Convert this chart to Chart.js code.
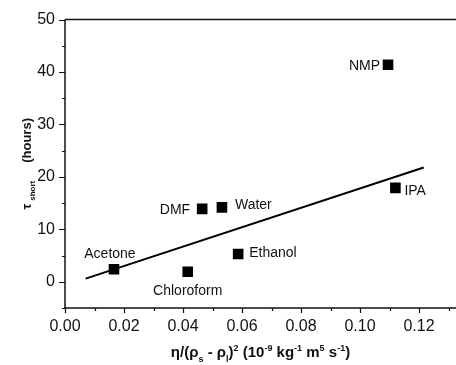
<!DOCTYPE html>
<html>
<head>
<meta charset="utf-8">
<script src="https://cdn.jsdelivr.net/npm/chart.js@4.4.1/dist/chart.umd.min.js"></script>
<style>
html,body{margin:0;padding:0;background:#fff;}
#wrap{width:456px;height:365px;position:relative;overflow:hidden;}
</style>
</head>
<body>
<div id="wrap"><canvas id="c" width="456" height="365"></canvas></div>
<script>
// ---- data ----
const solvents = ['Acetone', 'Chloroform', 'DMF', 'Water', 'Ethanol', 'NMP', 'IPA'];
const xValues  = [0.0166, 0.0416, 0.0465, 0.0532, 0.0587, 0.1095, 0.1120];
const yValues  = [2.4, 1.9, 13.9, 14.2, 5.3, 41.4, 17.9];
const fitX     = [0.0070, 0.1216];
const fitY     = [0.6, 21.8];
const xTickLabels = ['0.00', '0.02', '0.04', '0.06', '0.08', '0.10', '0.12'];
const yTickLabels = ['0', '10', '20', '30', '40', '50'];
// label placement: [align, dx, dy]
const labelPlace = {
  'Acetone':   ['center', -4, -15],
  'Chloroform':['center', 0, 19],
  'DMF':       ['right', -12, 1],
  'Water':     ['left', 13, -2],
  'Ethanol':   ['left', 11, -1],
  'NMP':       ['right', -8, 1],
  'IPA':       ['left', 9, 3]
};

const FONT = '"Liberation Sans", Arial, Helvetica, sans-serif';

function drawRich(ctx, parts, x, y, size, align) {
  // parts: [text, mode, extraGapAfter]
  const small = Math.round(size * 0.62);
  let total = 0;
  const widths = parts.map(p => {
    ctx.font = 'bold ' + (p[1] === 'n' ? size : small) + 'px ' + FONT;
    const w = ctx.measureText(p[0]).width + (p[2] || 0);
    total += w;
    return w;
  });
  let cx = align === 'center' ? x - total / 2 : x;
  parts.forEach((p, i) => {
    ctx.font = 'bold ' + (p[1] === 'n' ? size : small) + 'px ' + FONT;
    let dy = 0;
    if (p[1] === 'sub') dy = size * 0.3;
    if (p[1] === 'sup') dy = -size * 0.42;
    ctx.fillText(p[0], cx, y + dy);
    cx += widths[i];
  });
}

const framePlugin = {
  id: 'frame',
  afterDatasetsDraw(chart) {
    const ctx = chart.ctx;
    const a = chart.chartArea;
    const xs = chart.scales.x, ys = chart.scales.y;
    ctx.save();
    ctx.strokeStyle = '#111';
    ctx.lineWidth = 1.5;
    ctx.beginPath();
    ctx.moveTo(a.left, a.top); ctx.lineTo(456, a.top);
    ctx.moveTo(a.left, a.top); ctx.lineTo(a.left, a.bottom);
    ctx.moveTo(a.left - 1, a.bottom); ctx.lineTo(456, a.bottom);
    ctx.stroke();
    ctx.lineWidth = 1.2;
    ctx.beginPath();
    for (let i = 0; i <= 13; i++) {
      const v = i * 0.01;
      const px = Math.round(xs.getPixelForValue(v)) + 0.5;
      const len = (i % 2 === 0) ? 5 : 3;
      ctx.moveTo(px, a.bottom); ctx.lineTo(px, a.bottom + len);
    }
    for (let v = -5; v <= 50; v += 5) {
      const py = Math.round(ys.getPixelForValue(v)) + 0.5;
      const len = (v % 10 === 0) ? 6 : 3;
      ctx.moveTo(a.left, py); ctx.lineTo(a.left - len, py);
    }
    ctx.stroke();

    // point labels
    ctx.fillStyle = '#111';
    ctx.font = '14px ' + FONT;
    ctx.textBaseline = 'middle';
    const meta = chart.getDatasetMeta(0);
    meta.data.forEach((pt, i) => {
      const name = solvents[i];
      const pl = labelPlace[name];
      ctx.textAlign = pl[0];
      ctx.fillText(name, pt.x + pl[1], pt.y + pl[2]);
    });

    // axis titles
    ctx.textBaseline = 'alphabetic';
    ctx.textAlign = 'left';
    const cx = (a.left + 456) / 2;
    drawRich(ctx, [
      ['\u03b7/(\u03c1', 'n'], ['s', 'sub'], [' - \u03c1', 'n'], ['l', 'sub'], [')', 'n'], ['2', 'sup'],
      [' (10', 'n'], ['-9', 'sup'], [' kg', 'n'], ['-1', 'sup'], [' m', 'n'], ['5', 'sup'],
      [' s', 'n'], ['-1', 'sup'], [')', 'n']
    ], cx, 357, 15, 'center');

    ctx.translate(31, (a.top + a.bottom) / 2);
    ctx.rotate(-Math.PI / 2);
    drawRich(ctx, [['\u03c4', 'n', 3], ['short', 'sub', 18], ['(hours)', 'n']], 0, 0, 13, 'center');
    ctx.restore();
  }
};

new Chart(document.getElementById('c'), {
  type: 'scatter',
  data: {
    datasets: [
      {
        data: xValues.map((x, i) => ({x: x, y: yValues[i]})),
        pointStyle: 'rect',
        pointRadius: 7.5,
        pointBorderWidth: 0,
        backgroundColor: '#000',
        borderColor: '#000',
        order: 1
      },
      {
        data: fitX.map((x, i) => ({x: x, y: fitY[i]})),
        showLine: true,
        pointRadius: 0,
        borderColor: '#000',
        borderWidth: 2,
        fill: false,
        order: 2
      }
    ]
  },
  options: {
    responsive: false,
    animation: false,
    events: [],
    layout: {padding: {left: 0, top: 18, right: 0, bottom: 0}},
    plugins: {legend: {display: false}, tooltip: {enabled: false}},
    scales: {
      x: {
        type: 'linear', min: 0, max: 0.13,
        grid: {display: false, drawTicks: false},
        border: {display: false},
        afterFit(s) { s.height = 57; },
        afterBuildTicks(s) {
          s.ticks = xTickLabels.map(t => ({value: parseFloat(t)}));
        },
        ticks: {
          autoSkip: false, maxRotation: 0, padding: 9,
          color: '#111', font: {size: 16, family: FONT},
          callback: (v) => xTickLabels.find(t => Math.abs(parseFloat(t) - v) < 1e-6) || ''
        }
      },
      y: {
        type: 'linear', min: -5, max: 50,
        grid: {display: false, drawTicks: false},
        border: {display: false},
        afterFit(s) { s.width = 65; },
        afterBuildTicks(s) {
          s.ticks = yTickLabels.map(t => ({value: parseFloat(t)}));
        },
        ticks: {
          autoSkip: false, padding: 10,
          color: '#111', font: {size: 16, family: FONT},
          callback: (v) => yTickLabels.find(t => parseFloat(t) === v) || ''
        }
      }
    }
  },
  plugins: [framePlugin]
});
</script>
</body>
</html>
